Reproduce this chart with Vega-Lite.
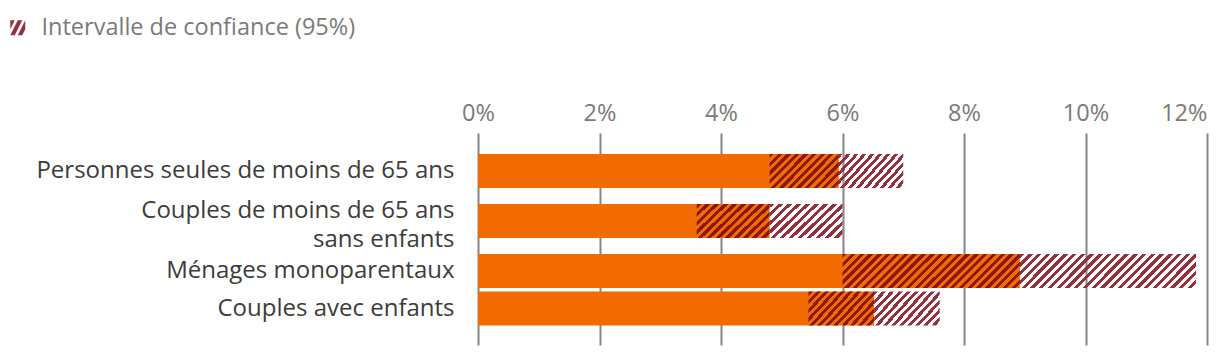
{
  "$schema": "https://vega.github.io/schema/vega-lite/v6.json",
  "autosize": {"type": "none"},
  "padding": {"left": 478, "top": 133, "right": 13, "bottom": 11},
  "width": 729,
  "height": 212,
  "background": "white",
  "config": {"view": {"stroke": null}, "font": "Open Sans"},
  "data": {"values": [
    {"cat": "Personnes seules de moins de 65 ans", "low": 4.8, "est": 5.94, "high": 7.0},
    {"cat": "Couples de moins de 65 ans sans enfants", "low": 3.6, "est": 4.8, "high": 6.0},
    {"cat": "Ménages monoparentaux", "low": 6.0, "est": 8.92, "high": 11.82},
    {"cat": "Couples avec enfants", "low": 5.44, "est": 6.52, "high": 7.6}
  ]},
  "encoding": {
    "y": {"field": "cat", "type": "nominal", "sort": null, "title": null,
      "scale": {"domain": ["_a", "_b", "Personnes seules de moins de 65 ans", "_1", "_2", "_3", "Couples de moins de 65 ans sans enfants", "_4", "_5", "_6", "Ménages monoparentaux", "_7", "_8", "Couples avec enfants", "_c", "_d"], "paddingInner": 0, "paddingOuter": 0.48, "align": 0.5625},
      "axis": {"values": ["Personnes seules de moins de 65 ans", "Couples de moins de 65 ans sans enfants", "Ménages monoparentaux", "Couples avec enfants"],
        "ticks": false, "domain": false, "grid": false, "labelFont": "Open Sans", "labelFontSize": 24, "labelColor": "#3c3c3c", "labelPadding": 24, "labelLimit": 600, "labelLineHeight": 29,
        "labelOffset": {"condition": {"test": "datum.value == 'Couples de moins de 65 ans sans enfants'", "value": -10.5}, "value": 0},
        "labelExpr": "datum.label == 'Couples de moins de 65 ans sans enfants' ? ['Couples de moins de 65 ans', 'sans enfants'] : datum.label"}}
  },
  "layer": [
    {
      "mark": {"type": "bar", "color": "#f26b00", "height": {"band": 2.72}},
      "encoding": {
        "x": {"field": "est", "type": "quantitative", "title": null,
          "scale": {"domain": [0, 12], "nice": false},
          "axis": {"orient": "top", "values": [0, 2, 4, 6, 8, 10, 12], "grid": true, "gridColor": "#858585", "gridWidth": 2, "domain": false, "ticks": false, "labelFont": "Open Sans", "labelFontSize": 23.5, "labelColor": "#7a7a7a", "labelPadding": 8, "labelExpr": "datum.value + '%'",
            "labelAlign": {"condition": {"test": "datum.value == 12", "value": "right"}, "value": "center"}}}
      }
    },
    {
      "mark": {"type": "bar", "height": {"band": 2.72}},
      "encoding": {
        "x": {"field": "low", "type": "quantitative"},
        "x2": {"field": "est"},
        "fill": {
          "condition": {"test": "datum.cat === 'Ménages monoparentaux'", "value": {"gradient": "linear", "x1": 0, "y1": 0, "x2": 1.1497, "y2": 0.2208, "stops": [
            {"offset": 0, "color": "#8c1a14"}, {"offset": 0.020833, "color": "#8c1a14"}, {"offset": 0.020833, "color": "rgba(0,0,0,0)"}, {"offset": 0.041667, "color": "rgba(0,0,0,0)"},
            {"offset": 0.041667, "color": "#8c1a14"}, {"offset": 0.0625, "color": "#8c1a14"}, {"offset": 0.0625, "color": "rgba(0,0,0,0)"}, {"offset": 0.083333, "color": "rgba(0,0,0,0)"},
            {"offset": 0.083333, "color": "#8c1a14"}, {"offset": 0.104167, "color": "#8c1a14"}, {"offset": 0.104167, "color": "rgba(0,0,0,0)"}, {"offset": 0.125, "color": "rgba(0,0,0,0)"},
            {"offset": 0.125, "color": "#8c1a14"}, {"offset": 0.145833, "color": "#8c1a14"}, {"offset": 0.145833, "color": "rgba(0,0,0,0)"}, {"offset": 0.166667, "color": "rgba(0,0,0,0)"},
            {"offset": 0.166667, "color": "#8c1a14"}, {"offset": 0.1875, "color": "#8c1a14"}, {"offset": 0.1875, "color": "rgba(0,0,0,0)"}, {"offset": 0.208333, "color": "rgba(0,0,0,0)"},
            {"offset": 0.208333, "color": "#8c1a14"}, {"offset": 0.229167, "color": "#8c1a14"}, {"offset": 0.229167, "color": "rgba(0,0,0,0)"}, {"offset": 0.25, "color": "rgba(0,0,0,0)"},
            {"offset": 0.25, "color": "#8c1a14"}, {"offset": 0.270833, "color": "#8c1a14"}, {"offset": 0.270833, "color": "rgba(0,0,0,0)"}, {"offset": 0.291667, "color": "rgba(0,0,0,0)"},
            {"offset": 0.291667, "color": "#8c1a14"}, {"offset": 0.3125, "color": "#8c1a14"}, {"offset": 0.3125, "color": "rgba(0,0,0,0)"}, {"offset": 0.333333, "color": "rgba(0,0,0,0)"},
            {"offset": 0.333333, "color": "#8c1a14"}, {"offset": 0.354167, "color": "#8c1a14"}, {"offset": 0.354167, "color": "rgba(0,0,0,0)"}, {"offset": 0.375, "color": "rgba(0,0,0,0)"},
            {"offset": 0.375, "color": "#8c1a14"}, {"offset": 0.395833, "color": "#8c1a14"}, {"offset": 0.395833, "color": "rgba(0,0,0,0)"}, {"offset": 0.416667, "color": "rgba(0,0,0,0)"},
            {"offset": 0.416667, "color": "#8c1a14"}, {"offset": 0.4375, "color": "#8c1a14"}, {"offset": 0.4375, "color": "rgba(0,0,0,0)"}, {"offset": 0.458333, "color": "rgba(0,0,0,0)"},
            {"offset": 0.458333, "color": "#8c1a14"}, {"offset": 0.479167, "color": "#8c1a14"}, {"offset": 0.479167, "color": "rgba(0,0,0,0)"}, {"offset": 0.5, "color": "rgba(0,0,0,0)"},
            {"offset": 0.5, "color": "#8c1a14"}, {"offset": 0.520833, "color": "#8c1a14"}, {"offset": 0.520833, "color": "rgba(0,0,0,0)"}, {"offset": 0.541667, "color": "rgba(0,0,0,0)"},
            {"offset": 0.541667, "color": "#8c1a14"}, {"offset": 0.5625, "color": "#8c1a14"}, {"offset": 0.5625, "color": "rgba(0,0,0,0)"}, {"offset": 0.583333, "color": "rgba(0,0,0,0)"},
            {"offset": 0.583333, "color": "#8c1a14"}, {"offset": 0.604167, "color": "#8c1a14"}, {"offset": 0.604167, "color": "rgba(0,0,0,0)"}, {"offset": 0.625, "color": "rgba(0,0,0,0)"},
            {"offset": 0.625, "color": "#8c1a14"}, {"offset": 0.645833, "color": "#8c1a14"}, {"offset": 0.645833, "color": "rgba(0,0,0,0)"}, {"offset": 0.666667, "color": "rgba(0,0,0,0)"},
            {"offset": 0.666667, "color": "#8c1a14"}, {"offset": 0.6875, "color": "#8c1a14"}, {"offset": 0.6875, "color": "rgba(0,0,0,0)"}, {"offset": 0.708333, "color": "rgba(0,0,0,0)"},
            {"offset": 0.708333, "color": "#8c1a14"}, {"offset": 0.729167, "color": "#8c1a14"}, {"offset": 0.729167, "color": "rgba(0,0,0,0)"}, {"offset": 0.75, "color": "rgba(0,0,0,0)"},
            {"offset": 0.75, "color": "#8c1a14"}, {"offset": 0.770833, "color": "#8c1a14"}, {"offset": 0.770833, "color": "rgba(0,0,0,0)"}, {"offset": 0.791667, "color": "rgba(0,0,0,0)"},
            {"offset": 0.791667, "color": "#8c1a14"}, {"offset": 0.8125, "color": "#8c1a14"}, {"offset": 0.8125, "color": "rgba(0,0,0,0)"}, {"offset": 0.833333, "color": "rgba(0,0,0,0)"},
            {"offset": 0.833333, "color": "#8c1a14"}, {"offset": 0.854167, "color": "#8c1a14"}, {"offset": 0.854167, "color": "rgba(0,0,0,0)"}, {"offset": 0.875, "color": "rgba(0,0,0,0)"},
            {"offset": 0.875, "color": "#8c1a14"}, {"offset": 0.895833, "color": "#8c1a14"}, {"offset": 0.895833, "color": "rgba(0,0,0,0)"}, {"offset": 0.916667, "color": "rgba(0,0,0,0)"},
            {"offset": 0.916667, "color": "#8c1a14"}, {"offset": 0.9375, "color": "#8c1a14"}, {"offset": 0.9375, "color": "rgba(0,0,0,0)"}, {"offset": 0.958333, "color": "rgba(0,0,0,0)"},
            {"offset": 0.958333, "color": "#8c1a14"}, {"offset": 0.979167, "color": "#8c1a14"}, {"offset": 0.979167, "color": "rgba(0,0,0,0)"}, {"offset": 1, "color": "rgba(0,0,0,0)"}
          ]}},
          "value": {"gradient": "linear", "x1": 0, "y1": 0, "x2": 1.2021, "y2": 0.5839, "stops": [
            {"offset": 0, "color": "#8c1a14"}, {"offset": 0.041667, "color": "#8c1a14"}, {"offset": 0.041667, "color": "rgba(0,0,0,0)"}, {"offset": 0.083333, "color": "rgba(0,0,0,0)"},
            {"offset": 0.083333, "color": "#8c1a14"}, {"offset": 0.125, "color": "#8c1a14"}, {"offset": 0.125, "color": "rgba(0,0,0,0)"}, {"offset": 0.166667, "color": "rgba(0,0,0,0)"},
            {"offset": 0.166667, "color": "#8c1a14"}, {"offset": 0.208333, "color": "#8c1a14"}, {"offset": 0.208333, "color": "rgba(0,0,0,0)"}, {"offset": 0.25, "color": "rgba(0,0,0,0)"},
            {"offset": 0.25, "color": "#8c1a14"}, {"offset": 0.291667, "color": "#8c1a14"}, {"offset": 0.291667, "color": "rgba(0,0,0,0)"}, {"offset": 0.333333, "color": "rgba(0,0,0,0)"},
            {"offset": 0.333333, "color": "#8c1a14"}, {"offset": 0.375, "color": "#8c1a14"}, {"offset": 0.375, "color": "rgba(0,0,0,0)"}, {"offset": 0.416667, "color": "rgba(0,0,0,0)"},
            {"offset": 0.416667, "color": "#8c1a14"}, {"offset": 0.458333, "color": "#8c1a14"}, {"offset": 0.458333, "color": "rgba(0,0,0,0)"}, {"offset": 0.5, "color": "rgba(0,0,0,0)"},
            {"offset": 0.5, "color": "#8c1a14"}, {"offset": 0.541667, "color": "#8c1a14"}, {"offset": 0.541667, "color": "rgba(0,0,0,0)"}, {"offset": 0.583333, "color": "rgba(0,0,0,0)"},
            {"offset": 0.583333, "color": "#8c1a14"}, {"offset": 0.625, "color": "#8c1a14"}, {"offset": 0.625, "color": "rgba(0,0,0,0)"}, {"offset": 0.666667, "color": "rgba(0,0,0,0)"},
            {"offset": 0.666667, "color": "#8c1a14"}, {"offset": 0.708333, "color": "#8c1a14"}, {"offset": 0.708333, "color": "rgba(0,0,0,0)"}, {"offset": 0.75, "color": "rgba(0,0,0,0)"},
            {"offset": 0.75, "color": "#8c1a14"}, {"offset": 0.791667, "color": "#8c1a14"}, {"offset": 0.791667, "color": "rgba(0,0,0,0)"}, {"offset": 0.833333, "color": "rgba(0,0,0,0)"},
            {"offset": 0.833333, "color": "#8c1a14"}, {"offset": 0.875, "color": "#8c1a14"}, {"offset": 0.875, "color": "rgba(0,0,0,0)"}, {"offset": 0.916667, "color": "rgba(0,0,0,0)"},
            {"offset": 0.916667, "color": "#8c1a14"}, {"offset": 0.958333, "color": "#8c1a14"}, {"offset": 0.958333, "color": "rgba(0,0,0,0)"}, {"offset": 1, "color": "rgba(0,0,0,0)"}
          ]}
        }
      }
    },
    {
      "mark": {"type": "bar", "height": {"band": 2.72}},
      "encoding": {
        "x": {"field": "est", "type": "quantitative"},
        "x2": {"field": "high"},
        "fill": {
          "condition": {"test": "datum.cat === 'Ménages monoparentaux'", "value": {"gradient": "linear", "x1": 0, "y1": 0, "x2": 1.1497, "y2": 0.2208, "stops": [
            {"offset": 0, "color": "#92323f"}, {"offset": 0.020833, "color": "#92323f"}, {"offset": 0.020833, "color": "rgba(0,0,0,0)"}, {"offset": 0.041667, "color": "rgba(0,0,0,0)"},
            {"offset": 0.041667, "color": "#92323f"}, {"offset": 0.0625, "color": "#92323f"}, {"offset": 0.0625, "color": "rgba(0,0,0,0)"}, {"offset": 0.083333, "color": "rgba(0,0,0,0)"},
            {"offset": 0.083333, "color": "#92323f"}, {"offset": 0.104167, "color": "#92323f"}, {"offset": 0.104167, "color": "rgba(0,0,0,0)"}, {"offset": 0.125, "color": "rgba(0,0,0,0)"},
            {"offset": 0.125, "color": "#92323f"}, {"offset": 0.145833, "color": "#92323f"}, {"offset": 0.145833, "color": "rgba(0,0,0,0)"}, {"offset": 0.166667, "color": "rgba(0,0,0,0)"},
            {"offset": 0.166667, "color": "#92323f"}, {"offset": 0.1875, "color": "#92323f"}, {"offset": 0.1875, "color": "rgba(0,0,0,0)"}, {"offset": 0.208333, "color": "rgba(0,0,0,0)"},
            {"offset": 0.208333, "color": "#92323f"}, {"offset": 0.229167, "color": "#92323f"}, {"offset": 0.229167, "color": "rgba(0,0,0,0)"}, {"offset": 0.25, "color": "rgba(0,0,0,0)"},
            {"offset": 0.25, "color": "#92323f"}, {"offset": 0.270833, "color": "#92323f"}, {"offset": 0.270833, "color": "rgba(0,0,0,0)"}, {"offset": 0.291667, "color": "rgba(0,0,0,0)"},
            {"offset": 0.291667, "color": "#92323f"}, {"offset": 0.3125, "color": "#92323f"}, {"offset": 0.3125, "color": "rgba(0,0,0,0)"}, {"offset": 0.333333, "color": "rgba(0,0,0,0)"},
            {"offset": 0.333333, "color": "#92323f"}, {"offset": 0.354167, "color": "#92323f"}, {"offset": 0.354167, "color": "rgba(0,0,0,0)"}, {"offset": 0.375, "color": "rgba(0,0,0,0)"},
            {"offset": 0.375, "color": "#92323f"}, {"offset": 0.395833, "color": "#92323f"}, {"offset": 0.395833, "color": "rgba(0,0,0,0)"}, {"offset": 0.416667, "color": "rgba(0,0,0,0)"},
            {"offset": 0.416667, "color": "#92323f"}, {"offset": 0.4375, "color": "#92323f"}, {"offset": 0.4375, "color": "rgba(0,0,0,0)"}, {"offset": 0.458333, "color": "rgba(0,0,0,0)"},
            {"offset": 0.458333, "color": "#92323f"}, {"offset": 0.479167, "color": "#92323f"}, {"offset": 0.479167, "color": "rgba(0,0,0,0)"}, {"offset": 0.5, "color": "rgba(0,0,0,0)"},
            {"offset": 0.5, "color": "#92323f"}, {"offset": 0.520833, "color": "#92323f"}, {"offset": 0.520833, "color": "rgba(0,0,0,0)"}, {"offset": 0.541667, "color": "rgba(0,0,0,0)"},
            {"offset": 0.541667, "color": "#92323f"}, {"offset": 0.5625, "color": "#92323f"}, {"offset": 0.5625, "color": "rgba(0,0,0,0)"}, {"offset": 0.583333, "color": "rgba(0,0,0,0)"},
            {"offset": 0.583333, "color": "#92323f"}, {"offset": 0.604167, "color": "#92323f"}, {"offset": 0.604167, "color": "rgba(0,0,0,0)"}, {"offset": 0.625, "color": "rgba(0,0,0,0)"},
            {"offset": 0.625, "color": "#92323f"}, {"offset": 0.645833, "color": "#92323f"}, {"offset": 0.645833, "color": "rgba(0,0,0,0)"}, {"offset": 0.666667, "color": "rgba(0,0,0,0)"},
            {"offset": 0.666667, "color": "#92323f"}, {"offset": 0.6875, "color": "#92323f"}, {"offset": 0.6875, "color": "rgba(0,0,0,0)"}, {"offset": 0.708333, "color": "rgba(0,0,0,0)"},
            {"offset": 0.708333, "color": "#92323f"}, {"offset": 0.729167, "color": "#92323f"}, {"offset": 0.729167, "color": "rgba(0,0,0,0)"}, {"offset": 0.75, "color": "rgba(0,0,0,0)"},
            {"offset": 0.75, "color": "#92323f"}, {"offset": 0.770833, "color": "#92323f"}, {"offset": 0.770833, "color": "rgba(0,0,0,0)"}, {"offset": 0.791667, "color": "rgba(0,0,0,0)"},
            {"offset": 0.791667, "color": "#92323f"}, {"offset": 0.8125, "color": "#92323f"}, {"offset": 0.8125, "color": "rgba(0,0,0,0)"}, {"offset": 0.833333, "color": "rgba(0,0,0,0)"},
            {"offset": 0.833333, "color": "#92323f"}, {"offset": 0.854167, "color": "#92323f"}, {"offset": 0.854167, "color": "rgba(0,0,0,0)"}, {"offset": 0.875, "color": "rgba(0,0,0,0)"},
            {"offset": 0.875, "color": "#92323f"}, {"offset": 0.895833, "color": "#92323f"}, {"offset": 0.895833, "color": "rgba(0,0,0,0)"}, {"offset": 0.916667, "color": "rgba(0,0,0,0)"},
            {"offset": 0.916667, "color": "#92323f"}, {"offset": 0.9375, "color": "#92323f"}, {"offset": 0.9375, "color": "rgba(0,0,0,0)"}, {"offset": 0.958333, "color": "rgba(0,0,0,0)"},
            {"offset": 0.958333, "color": "#92323f"}, {"offset": 0.979167, "color": "#92323f"}, {"offset": 0.979167, "color": "rgba(0,0,0,0)"}, {"offset": 1, "color": "rgba(0,0,0,0)"}
          ]}},
          "value": {"gradient": "linear", "x1": 0, "y1": 0, "x2": 1.2021, "y2": 0.5839, "stops": [
            {"offset": 0, "color": "#92323f"}, {"offset": 0.041667, "color": "#92323f"}, {"offset": 0.041667, "color": "rgba(0,0,0,0)"}, {"offset": 0.083333, "color": "rgba(0,0,0,0)"},
            {"offset": 0.083333, "color": "#92323f"}, {"offset": 0.125, "color": "#92323f"}, {"offset": 0.125, "color": "rgba(0,0,0,0)"}, {"offset": 0.166667, "color": "rgba(0,0,0,0)"},
            {"offset": 0.166667, "color": "#92323f"}, {"offset": 0.208333, "color": "#92323f"}, {"offset": 0.208333, "color": "rgba(0,0,0,0)"}, {"offset": 0.25, "color": "rgba(0,0,0,0)"},
            {"offset": 0.25, "color": "#92323f"}, {"offset": 0.291667, "color": "#92323f"}, {"offset": 0.291667, "color": "rgba(0,0,0,0)"}, {"offset": 0.333333, "color": "rgba(0,0,0,0)"},
            {"offset": 0.333333, "color": "#92323f"}, {"offset": 0.375, "color": "#92323f"}, {"offset": 0.375, "color": "rgba(0,0,0,0)"}, {"offset": 0.416667, "color": "rgba(0,0,0,0)"},
            {"offset": 0.416667, "color": "#92323f"}, {"offset": 0.458333, "color": "#92323f"}, {"offset": 0.458333, "color": "rgba(0,0,0,0)"}, {"offset": 0.5, "color": "rgba(0,0,0,0)"},
            {"offset": 0.5, "color": "#92323f"}, {"offset": 0.541667, "color": "#92323f"}, {"offset": 0.541667, "color": "rgba(0,0,0,0)"}, {"offset": 0.583333, "color": "rgba(0,0,0,0)"},
            {"offset": 0.583333, "color": "#92323f"}, {"offset": 0.625, "color": "#92323f"}, {"offset": 0.625, "color": "rgba(0,0,0,0)"}, {"offset": 0.666667, "color": "rgba(0,0,0,0)"},
            {"offset": 0.666667, "color": "#92323f"}, {"offset": 0.708333, "color": "#92323f"}, {"offset": 0.708333, "color": "rgba(0,0,0,0)"}, {"offset": 0.75, "color": "rgba(0,0,0,0)"},
            {"offset": 0.75, "color": "#92323f"}, {"offset": 0.791667, "color": "#92323f"}, {"offset": 0.791667, "color": "rgba(0,0,0,0)"}, {"offset": 0.833333, "color": "rgba(0,0,0,0)"},
            {"offset": 0.833333, "color": "#92323f"}, {"offset": 0.875, "color": "#92323f"}, {"offset": 0.875, "color": "rgba(0,0,0,0)"}, {"offset": 0.916667, "color": "rgba(0,0,0,0)"},
            {"offset": 0.916667, "color": "#92323f"}, {"offset": 0.958333, "color": "#92323f"}, {"offset": 0.958333, "color": "rgba(0,0,0,0)"}, {"offset": 1, "color": "rgba(0,0,0,0)"}
          ]}
        }
      }
    },
    {
      "mark": {"type": "point", "filled": true, "size": 0},
      "encoding": {
        "x": {"field": "est", "type": "quantitative"},
        "color": {"datum": "Intervalle de confiance (95%)", "type": "nominal",
          "scale": {"range": ["#92323f"]},
          "legend": {"orient": "none", "legendX": -472, "legendY": -117, "title": null, "padding": 0,
            "symbolType": "M-1,1L-0.4,1L0.6,-1L0,-1ZM0,1L0.6,1L1,0.2L1,-1ZM-1,-1L-0.4,-1L-1,0.2Z",
            "symbolSize": 225, "symbolStrokeWidth": 0, "symbolOpacity": 1, "symbolFillColor": "#92323f",
            "labelFont": "Open Sans", "labelFontSize": 23.5, "labelColor": "#7a7a7a", "labelOffset": 12, "labelLimit": 600}}
      }
    }
  ]
}
